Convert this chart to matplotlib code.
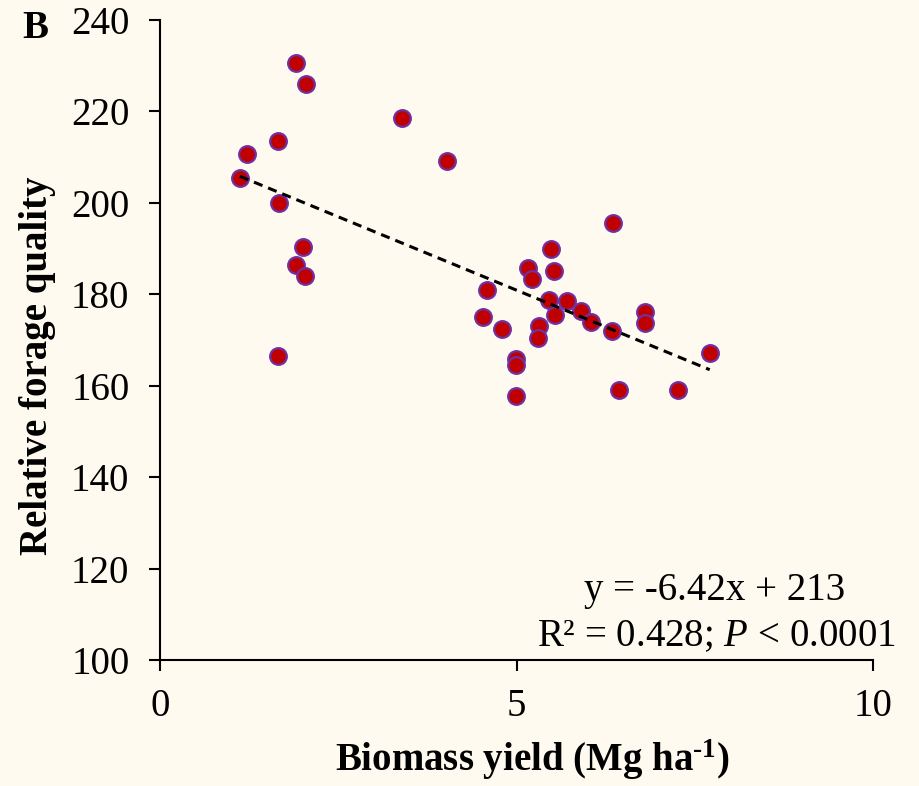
import numpy as np
import matplotlib
matplotlib.use("Agg")
import matplotlib.pyplot as plt

# biomass yield (Mg/ha) and relative forage quality for each plot
yield_mg = [1.91, 2.05, 3.40, 4.02, 1.65, 1.22, 1.12, 1.67, 2.01, 1.91, 2.04, 1.66,
            6.35, 5.49, 5.16, 5.22, 5.52, 4.58, 5.45, 5.71, 5.54, 5.90, 6.04, 6.34,
            6.80, 6.80, 4.53, 4.80, 5.32, 5.30, 4.99, 4.99, 4.99, 6.44, 7.26, 7.71]
rfq = [230.5, 226.1, 218.5, 209.2, 213.6, 210.7, 205.5, 199.9, 190.4, 186.3, 184.0, 166.5,
       195.7, 189.9, 185.7, 183.3, 185.0, 180.9, 178.7, 178.6, 175.5, 176.3, 173.9, 172.0,
       176.1, 173.8, 175.0, 172.4, 173.0, 170.4, 165.8, 164.5, 157.8, 159.0, 159.1, 167.1]

# linear fit reported on the chart
slope = -6.42
intercept = 213
r2 = 0.428

xticks = [0, 5, 10]
yticks = [100, 120, 140, 160, 180, 200, 220, 240]

bg = "#FFFAF0"
fs = 28
plt.rcParams["font.family"] = ["Liberation Serif", "DejaVu Serif"]
plt.rcParams["mathtext.fontset"] = "custom"
plt.rcParams["mathtext.rm"] = "Liberation Serif:bold"
plt.rcParams["mathtext.it"] = "Liberation Serif:italic"
plt.rcParams["mathtext.bf"] = "Liberation Serif:bold"

fig = plt.figure(figsize=(9.2, 7.86), dpi=100, facecolor=bg)
ax = fig.add_axes([160 / 920, 1 - 660 / 786, 713 / 920, 640 / 786], facecolor=bg)

ax.scatter(yield_mg, rfq, s=12 ** 2, c="#C00000", edgecolors="#7030A0",
           linewidths=1.6, zorder=3, clip_on=False)

xs = np.array([min(yield_mg), max(yield_mg)])
ax.plot(xs, slope * xs + intercept, color="black", lw=2.2,
        linestyle=(0, (3, 2)), zorder=4)

ax.set_xlim(0, 10)
ax.set_ylim(100, 240)
ax.set_xticks(xticks)
ax.set_yticks(yticks)
for s in ["top", "right"]:
    ax.spines[s].set_visible(False)
for s in ["left", "bottom"]:
    ax.spines[s].set_linewidth(1.5)
ax.tick_params(direction="out", length=8, width=1.5, labelsize=fs)
ax.tick_params(axis="y", pad=14)
ax.tick_params(axis="x", pad=12)

ax.text(7.78, 113.1, f"y = {slope}x + {intercept}", fontsize=fs,
        ha="center", va="baseline")
ax.text(7.8, 103.0, f"R² = {r2}; $\\mathit{{P}}$ < 0.0001", fontsize=fs,
        ha="center", va="baseline")

fig.text(532 / 920, 1 - 760 / 786, r"Biomass yield (Mg ha$^{\text{-1}}$)",
         fontsize=fs, fontweight="bold", ha="center", va="center")
fig.text(38 / 920, 1 - 366 / 786, "Relative forage quality", fontsize=fs,
         fontweight="bold", rotation=90, ha="center", va="center")
fig.text(22 / 920, 1 - 38 / 786, "B", fontsize=fs, fontweight="bold",
         ha="left", va="baseline")

fig.savefig("out.png", dpi=100, facecolor=bg)
